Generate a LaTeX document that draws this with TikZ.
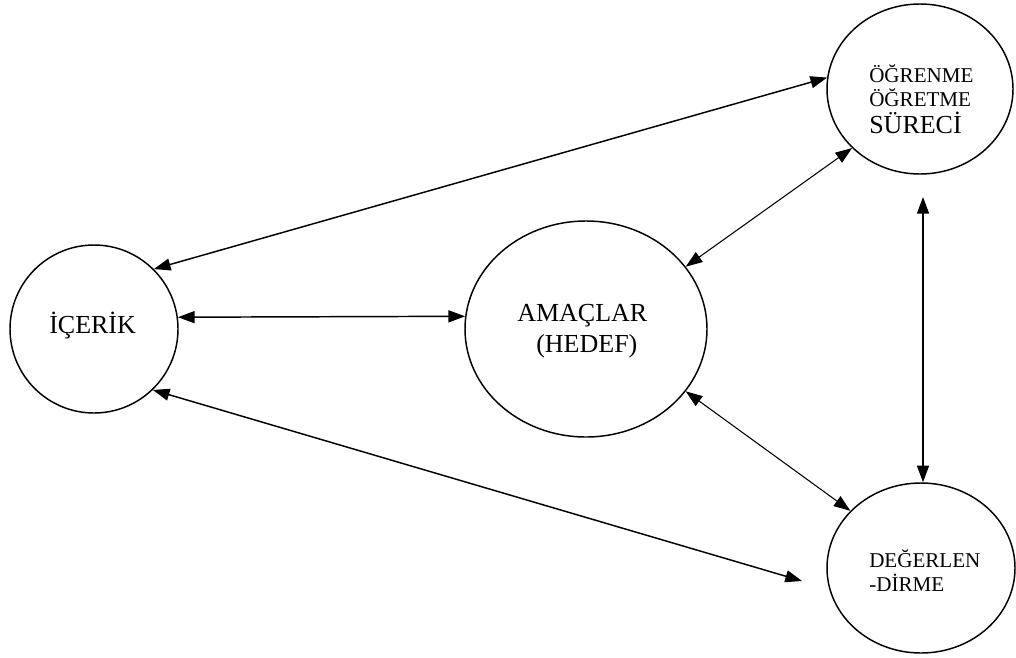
\documentclass[tikz,border=0pt]{standalone}
\usepackage{fontspec}
\setmainfont{Liberation Serif}
\usetikzlibrary{shapes.geometric,arrows.meta}
\begin{document}
\begin{tikzpicture}[x=0.75pt,y=-0.75pt,
  bub/.style={draw,ellipse,line width=1.1pt,inner sep=0pt},
  link/.style={line width=1.1pt,{Triangle[length=12.5pt,width=9pt]}-{Triangle[length=12.5pt,width=9pt]}},
  thinlink/.style={link,line width=0.8pt},
  bigtxt/.style={anchor=base west,inner sep=0pt,font=\fontsize{19.5}{23}\selectfont},
  smalltxt/.style={anchor=base west,inner sep=0pt,font=\fontsize{15.8}{19}\selectfont}]
\useasboundingbox (0,0) rectangle (1016,657);
% bubbles
\node[bub,minimum width=126pt,minimum height=126pt] (ic) at (94,329) {};
\node[bub,minimum width=181.5pt,minimum height=162pt] (am) at (586,329) {};
\node[bub,minimum width=139.5pt,minimum height=127.5pt] (og) at (920,89) {};
\node[bub,minimum width=141pt,minimum height=127.5pt] (de) at (921,568) {};
% texts
\node[bigtxt] (ict) at (49,333) {İÇERİK};
\node[bigtxt] (amt1) at (517,321.5) {AMAÇLAR};
\node[bigtxt] (amt2) at (536,352.5) {(HEDEF)};
\node[smalltxt] (ogt1) at (869,82) {ÖĞRENME};
\node[smalltxt] (ogt2) at (869,106) {ÖĞRETME};
\node[bigtxt] (ogt3) at (869,133.5) {SÜRECİ};
\node[smalltxt] (det1) at (869,567) {DEĞERLEN};
\node[smalltxt] (det2) at (869,591) {-DİRME};
% free ends
\coordinate (deIn) at (802,581);
\coordinate (ogOut) at (923,197);
% connectors
\draw[link] (ic.45) -- (og.173);
\draw[link] (ic.8) -- (am.174);
\draw[link] (ic.-46) -- (deIn);
\draw[thinlink] (am.32) -- (og.221);
\draw[thinlink] (am.-32) -- (de.141);
\draw[link] (ogOut) -- (ogOut |- de.north);
\end{tikzpicture}
\end{document}
